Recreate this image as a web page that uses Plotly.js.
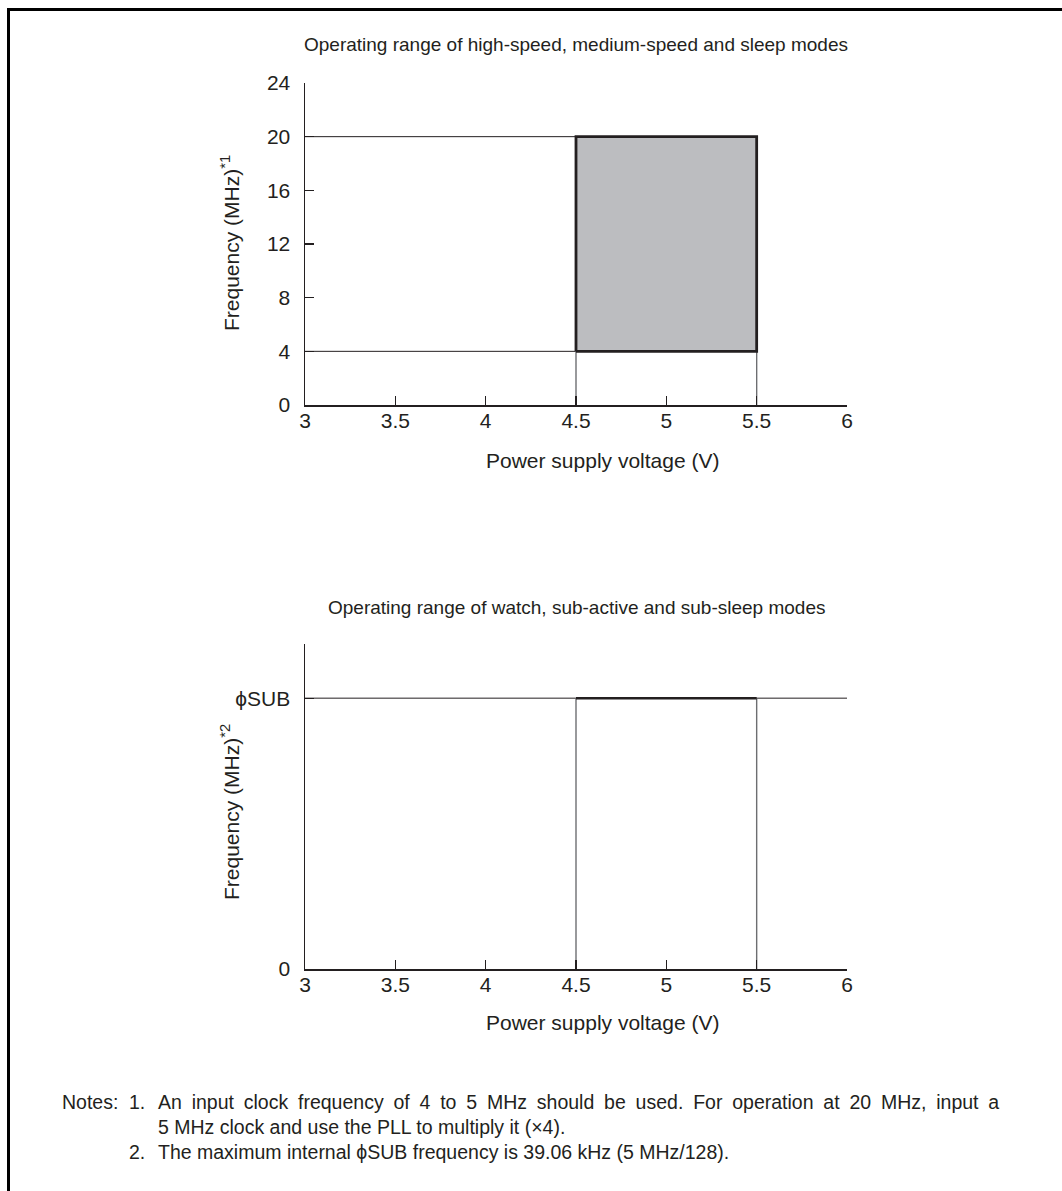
<!DOCTYPE html>
<html>
<head>
<meta charset="utf-8">
<script src="https://cdn.plot.ly/plotly-3.0.1.min.js"></script>
<style>
  html, body { margin: 0; padding: 0; background: #fff; }
  #wrap { position: relative; width: 1062px; height: 1191px; }
  #chart { position: absolute; left: 0; top: 0; width: 1062px; height: 1191px; }
  #frame { position: absolute; left: 7px; top: 8px; right: 0; bottom: 0;
           border-left: 3px solid #000; border-top: 3px solid #000; pointer-events: none; }
</style>
</head>
<body>
<div id="wrap"><div id="chart"></div><div id="frame"></div></div>
<script>
// ---- data ----
const voltageTicks = [3, 3.5, 4, 4.5, 5, 5.5, 6];
const voltageRange = [3, 6];
const freqTicksTop = [0, 4, 8, 12, 16, 20, 24];
const freqRangeTop = [0, 24];
const opVoltage = [4.5, 5.5];        // operating voltage window (V)
const opFreqTop = [4, 20];           // operating frequency window (MHz)
const subLevel = 1;                  // nominal φSUB level
const subTickVals = [0, 1, 1.2];
const subTickText = ['0', '\u03D5SUB', ''];
const subRange = [0, 1.2];
const titleTop = 'Operating range of high-speed, medium-speed and sleep modes';
const titleBottom = 'Operating range of watch, sub-active and sub-sleep modes';
const xTitle = 'Power supply voltage (V)';
const yTitleTop = 'Frequency (MHz)<sup>*1</sup>';
const yTitleBottom = 'Frequency (MHz)<sup>*2</sup>';
const notes = [
  'An input clock frequency of 4 to 5 MHz should be used. For operation at 20 MHz, input a',
  '5 MHz clock and use the PLL to multiply it (\u00D74).',
  'The maximum internal \u03D5SUB frequency is 39.06 kHz (5 MHz/128).'
];

// ---- styling ----
const ink = '#231f20';
const grayLine = '#6d6e71';
const fontFam = 'Liberation Sans, Arial, Helvetica, sans-serif';
const W = 1062, H = 1191;
const px = v => v / W;
const py = v => 1 - v / H;
const F = (s) => ({family: fontFam, size: s, color: ink});

const thin = {color: ink, width: 1};
const vert = {color: grayLine, width: 1.4};

const traces = [
  // top chart
  {x: [voltageRange[0], opVoltage[0]], y: [opFreqTop[1], opFreqTop[1]], xaxis: 'x', yaxis: 'y', mode: 'lines', line: thin},
  {x: [voltageRange[0], opVoltage[0]], y: [opFreqTop[0], opFreqTop[0]], xaxis: 'x', yaxis: 'y', mode: 'lines', line: thin},
  {x: [opVoltage[0], opVoltage[0]], y: [freqRangeTop[0], opFreqTop[0]], xaxis: 'x', yaxis: 'y', mode: 'lines', line: vert},
  {x: [opVoltage[1], opVoltage[1]], y: [freqRangeTop[0], opFreqTop[0]], xaxis: 'x', yaxis: 'y', mode: 'lines', line: vert},
  {x: [opVoltage[0], opVoltage[1], opVoltage[1], opVoltage[0], opVoltage[0]],
   y: [opFreqTop[0], opFreqTop[0], opFreqTop[1], opFreqTop[1], opFreqTop[0]],
   xaxis: 'x', yaxis: 'y', mode: 'lines', fill: 'toself', fillcolor: '#bcbdc0',
   line: {color: ink, width: 2.8}},
  // bottom chart
  {x: [voltageRange[0], voltageRange[1]], y: [subLevel, subLevel], xaxis: 'x2', yaxis: 'y2', mode: 'lines', line: thin},
  {x: [opVoltage[0], opVoltage[0]], y: [subRange[0], subLevel], xaxis: 'x2', yaxis: 'y2', mode: 'lines', line: vert},
  {x: [opVoltage[1], opVoltage[1]], y: [subRange[0], subLevel], xaxis: 'x2', yaxis: 'y2', mode: 'lines', line: vert},
  {x: [opVoltage[0], opVoltage[1]], y: [subLevel, subLevel], xaxis: 'x2', yaxis: 'y2', mode: 'lines', line: {color: ink, width: 2.5}}
];

const axisCommon = {
  showline: true, linecolor: ink, linewidth: 1.5,
  ticks: 'inside', ticklen: 9, tickwidth: 1.2, tickcolor: ink,
  showgrid: false, zeroline: false, fixedrange: true,
  tickfont: F(21)
};

const xaxisDef = (anchor, dom) => Object.assign({}, axisCommon, {
  domain: dom, anchor: anchor, range: voltageRange,
  tickmode: 'array', tickvals: voltageTicks, ticktext: voltageTicks.map(String),
  ticklabelstandoff: -4
});

const yaxisDef = (anchor, dom, range, vals, text) => Object.assign({}, axisCommon, {
  domain: dom, anchor: anchor, range: range,
  tickmode: 'array', tickvals: vals, ticktext: text,
  ticklabelstandoff: 9
});

const ann = (text, x, y, size, extra) => Object.assign({
  text: text, xref: 'paper', yref: 'paper', x: px(x), y: py(y),
  xanchor: 'left', yanchor: 'middle', showarrow: false, font: F(size)
}, extra || {});

const layout = {
  width: W, height: H,
  margin: {l: 0, r: 0, t: 0, b: 0},
  paper_bgcolor: '#fff', plot_bgcolor: 'rgba(0,0,0,0)',
  showlegend: false,
  font: {family: fontFam, color: ink},
  xaxis: xaxisDef('y', [px(305), px(847)]),
  yaxis: yaxisDef('x', [py(405), py(83)], freqRangeTop, freqTicksTop, freqTicksTop.map(String)),
  xaxis2: xaxisDef('y2', [px(305), px(847)]),
  yaxis2: yaxisDef('x2', [py(969), py(644)], subRange, subTickVals, subTickText),
  annotations: [
    ann(titleTop, 576, 45, 19, {xanchor: 'center'}),
    ann(titleBottom, 576, 607, 19, {xanchor: 'center'}),
    ann(xTitle, 602, 460, 21, {xanchor: 'center'}),
    ann(xTitle, 602, 1022, 21, {xanchor: 'center'}),
    ann(yTitleTop, 230, 243, 21, {xanchor: 'center', textangle: -90}),
    ann(yTitleBottom, 230, 812, 21, {xanchor: 'center', textangle: -90}),
    ann('Notes:', 60, 1102, 19.5),
    ann('1.', 127, 1102, 19.5),
    ann(notes[0], 156, 1102, 19.5),
    ann(notes[1], 156, 1127, 19.5),
    ann('2.', 127, 1152, 19.5),
    ann(notes[2], 156, 1152, 19.5)
  ]
};

Plotly.newPlot('chart', traces, layout, {staticPlot: true, displayModeBar: false}).then(gd => {
  // first note line is justified in the original layout: widen word gaps, keep left edge fixed
  gd.querySelectorAll('.annotation-text').forEach(t => {
    if (t.textContent === notes[0]) {
      const w0 = t.getBBox().width;
      t.style.wordSpacing = '4.4px';
      const w1 = t.getBBox().width;
      const x0 = parseFloat(t.getAttribute('x') || '0');
      t.setAttribute('x', x0 + (w1 - w0) / 2);
    }
  });
});
</script>
</body>
</html>
